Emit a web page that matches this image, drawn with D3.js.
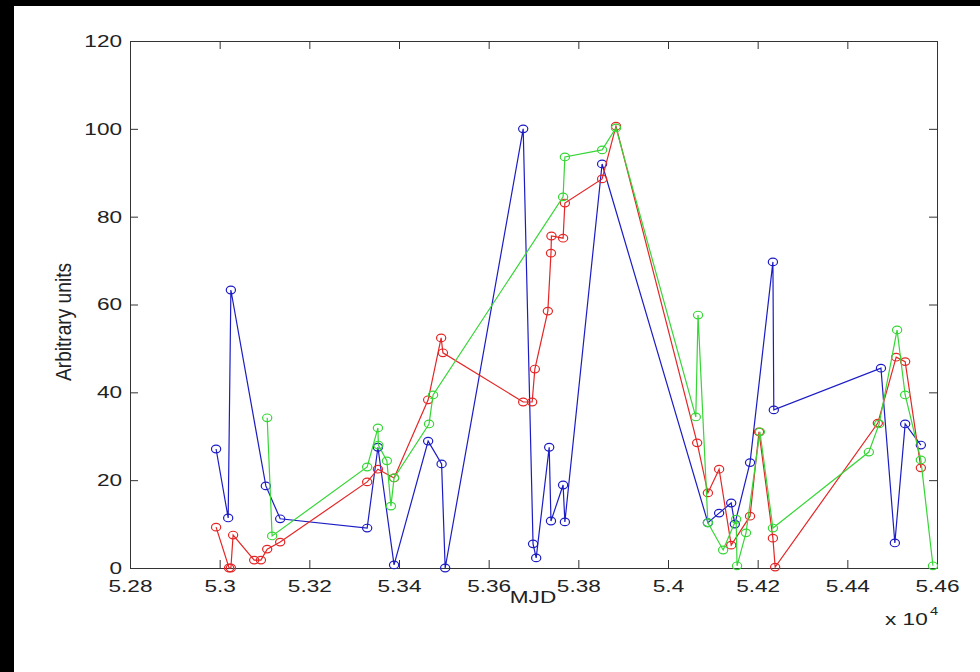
<!DOCTYPE html>
<html>
<head>
<meta charset="utf-8">
<script src="https://cdn.jsdelivr.net/npm/d3@7"></script>
<style>
  body { margin: 0; background: #fff; }
  svg { display: block; font-family: "Liberation Sans", Arial, Helvetica, sans-serif; }
</style>
</head>
<body>
<svg id="chart" width="980" height="672"></svg>
<script>
// values (MJD, arbitrary units)
var blueMjd = [52992, 53019, 53025, 53103, 53135, 53329, 53353, 53389, 53465, 53495, 53503,
  53677, 53699, 53706, 53735, 53739, 53766, 53770, 53853, 54089, 54114, 54141, 54149, 54183,
  54234, 54236, 54475, 54506, 54529, 54564];
var blueVal = [27.1, 11.4, 63.3, 18.7, 11.2, 9.1, 27.5, 0.7, 28.9, 23.7, 0,
  100, 5.5, 2.3, 27.5, 10.7, 18.9, 10.5, 92, 10.3, 12.5, 14.8, 10, 24,
  69.7, 36, 45.5, 5.7, 32.8, 28];

var redMjd = [52992, 53021, 53025, 53030, 53077, 53092, 53106, 53135, 53329, 53353, 53389,
  53465, 53494, 53498, 53677, 53697, 53703, 53732, 53739, 53740, 53766, 53770, 53853, 53884,
  54065, 54089, 54114, 54141, 54183, 54203, 54234, 54239, 54468, 54509, 54529, 54564];
var redVal = [9.3, 0, 0, 7.5, 1.8, 1.8, 4.3, 5.9, 19.6, 22.5, 20.5,
  38.3, 52.4, 49, 37.8, 37.8, 45.3, 58.5, 71.7, 75.6, 75.1, 83.1, 88.6, 100.6,
  28.5, 17.1, 22.5, 5.2, 11.8, 31, 6.8, 0.2, 33, 48, 47, 22.8];

var greenMjd = [53106, 53117, 53329, 53353, 53354, 53373, 53382, 53389, 53467, 53476,
  53766, 53770, 53853, 53884, 54062, 54067, 54089, 54123, 54152, 54154, 54174, 54205, 54234,
  54448, 54471, 54511, 54529, 54564, 54591];
var greenVal = [34.2, 7.3, 23, 31.9, 28, 24.4, 14.1, 20.5, 32.8, 39.4,
  84.5, 93.6, 95.2, 100.2, 34.4, 57.6, 10.3, 4.1, 11.1, 0.5, 8, 31, 9.1,
  26.4, 32.8, 54.2, 39.4, 24.6, 0.5];

var xTicks = [52800, 53000, 53200, 53400, 53600, 53800, 54000, 54200, 54400, 54600];
var xTickLabels = ["5.28", "5.3", "5.32", "5.34", "5.36", "5.38", "5.4", "5.42", "5.44", "5.46"];
var yTicks = [0, 20, 40, 60, 80, 100, 120];
var yTickLabels = ["0", "20", "40", "60", "80", "100", "120"];

var series = [
  { name: "blue", color: "#1c1cc4", mjd: blueMjd, val: blueVal },
  { name: "red", color: "#e42626", mjd: redMjd, val: redVal },
  { name: "green", color: "#36d636", mjd: greenMjd, val: greenVal }
];

var plotLeft = 130, plotRight = 937, plotTop = 41, plotBottom = 568;
var stretch = 1.33; // the figure text is wide

var svg = d3.select("#chart");

// black scan border on top and left
svg.append("rect").attr("x", 0).attr("y", 0).attr("width", 980).attr("height", 6).attr("fill", "#000");
svg.append("rect").attr("x", 0).attr("y", 0).attr("width", 14).attr("height", 672).attr("fill", "#000");

var x = d3.scaleLinear().domain([52800, 54600]).range([plotLeft, plotRight]);
var y = d3.scaleLinear().domain([0, 120]).range([plotBottom, plotTop]);

function styleAxis(g) {
  g.selectAll("path, line").attr("stroke", "#333");
  g.selectAll("text").attr("fill", "#222").style("font-size", "17px");
}

svg.append("g")
  .attr("transform", "translate(0," + plotBottom + ")")
  .call(d3.axisBottom(x).tickValues(xTicks).tickFormat(function(d, i) { return xTickLabels[i]; })
    .tickSizeInner(-8).tickSizeOuter(0).tickPadding(12))
  .call(styleAxis)
  .selectAll("text").attr("transform", "scale(" + stretch + ",1)");

svg.append("g")
  .attr("transform", "translate(" + plotLeft + ",0)")
  .call(d3.axisLeft(y).tickValues(yTicks).tickFormat(function(d, i) { return yTickLabels[i]; })
    .tickSizeInner(-8).tickSizeOuter(0).tickPadding(6))
  .call(styleAxis)
  .selectAll("text").attr("transform", "scale(" + stretch + ",1)");

svg.append("g")
  .attr("transform", "translate(0," + plotTop + ")")
  .call(d3.axisTop(x).tickValues(xTicks).tickFormat("").tickSizeInner(-8).tickSizeOuter(0))
  .call(styleAxis);

svg.append("g")
  .attr("transform", "translate(" + plotRight + ",0)")
  .call(d3.axisRight(y).tickValues(yTicks).tickFormat("").tickSizeInner(-8).tickSizeOuter(0))
  .call(styleAxis);

// axis titles
svg.append("text")
  .attr("transform", "translate(533,603) scale(" + stretch + ",1)")
  .attr("text-anchor", "middle")
  .attr("fill", "#222").style("font-size", "17px")
  .text("MJD");

svg.append("text")
  .attr("transform", "translate(63,322) scale(" + stretch + ",1) rotate(-90)")
  .attr("text-anchor", "middle")
  .attr("dominant-baseline", "central")
  .attr("fill", "#222").style("font-size", "17px")
  .attr("textLength", 118).attr("lengthAdjust", "spacingAndGlyphs")
  .text("Arbitrary units");

svg.append("text")
  .attr("transform", "translate(885,625) scale(" + stretch + ",1)")
  .attr("fill", "#222").style("font-size", "17px")
  .text("x 10");
svg.append("text")
  .attr("transform", "translate(930,615) scale(" + stretch + ",1)")
  .attr("fill", "#222").style("font-size", "11px")
  .text("4");

// series
var line = d3.line()
  .x(function(d) { return x(d[0]); })
  .y(function(d) { return y(d[1]); });

series.forEach(function(s) {
  var pts = s.mjd.map(function(m, i) { return [m, s.val[i]]; });
  var g = svg.append("g").attr("class", "series-" + s.name);
  g.append("path")
    .datum(pts)
    .attr("d", line)
    .attr("fill", "none")
    .attr("stroke", s.color)
    .attr("stroke-width", 1.2);
  g.selectAll("ellipse")
    .data(pts)
    .enter().append("ellipse")
    .attr("cx", function(d) { return x(d[0]); })
    .attr("cy", function(d) { return y(d[1]); })
    .attr("rx", 4.6)
    .attr("ry", 3.8)
    .attr("fill", "none")
    .attr("stroke", s.color)
    .attr("stroke-width", 1.2);
});
</script>
</body>
</html>
